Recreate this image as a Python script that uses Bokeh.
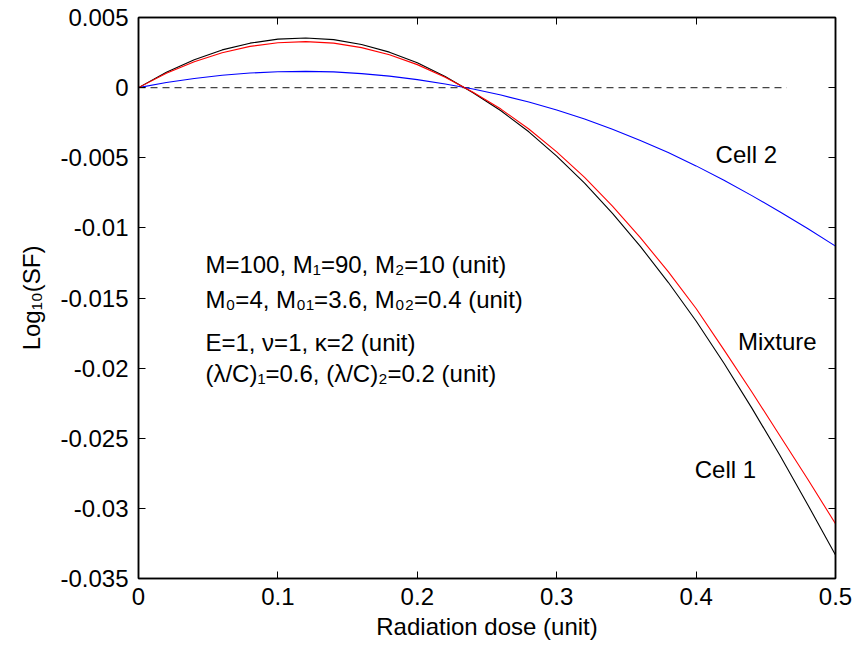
from bokeh.plotting import figure
from bokeh.models import Range1d, LinearAxis, FixedTicker, Label, CustomJSTickFormatter
from bokeh.embed import file_html
from bokeh.resources import INLINE

# ---- data ----
dose = [0.00, 0.02, 0.04, 0.06, 0.08, 0.10, 0.12, 0.14, 0.16, 0.18, 0.20, 0.22, 0.24,
        0.26, 0.28, 0.30, 0.32, 0.34, 0.36, 0.38, 0.40, 0.42, 0.44, 0.46, 0.48, 0.50]
cell1 = [0.0, 0.00110, 0.00199, 0.00269, 0.00317, 0.00346, 0.00354, 0.00342, 0.00308,
         0.00253, 0.00178, 0.00080, -0.00036, -0.00165, -0.00315, -0.00488, -0.00681,
         -0.00896, -0.01132, -0.01388, -0.01664, -0.01965, -0.02285, -0.02620, -0.02972, -0.03333]
mixture = [0.0, 0.00102, 0.00185, 0.00249, 0.00294, 0.00320, 0.00328, 0.00317, 0.00285,
           0.00234, 0.00164, 0.00074, -0.00033, -0.00153, -0.00295, -0.00458, -0.00640,
           -0.00845, -0.01070, -0.01312, -0.01575, -0.01870, -0.02170, -0.02480, -0.02790, -0.03110]
cell2 = [0.0, 0.00036, 0.00065, 0.00088, 0.00104, 0.00113, 0.00116, 0.00112, 0.00100,
         0.00082, 0.00057, 0.00026, -0.00010, -0.00053, -0.00103, -0.00160, -0.00224,
         -0.00297, -0.00377, -0.00463, -0.00558, -0.00660, -0.00770, -0.00885, -0.01005, -0.01130]
zero_x = [0.0, 0.465]
zero_y = [0.0, 0.0]

x_ticks = [0, 0.1, 0.2, 0.3, 0.4, 0.5]
x_tick_labels = ["0", "0.1", "0.2", "0.3", "0.4", "0.5"]
y_ticks = [0.005, 0, -0.005, -0.01, -0.015, -0.02, -0.025, -0.03, -0.035]
y_tick_labels = ["0.005", "0", "-0.005", "-0.01", "-0.015", "-0.02", "-0.025", "-0.03", "-0.035"]

curve_labels = ["Cell 2", "Mixture", "Cell 1"]
curve_label_x = [0.414, 0.430, 0.399]
curve_label_y = [-0.00478, -0.01812, -0.02725]

info_lines = ["M=100, M\u2081=90, M\u2082=10 (unit)",
              "M\u2080=4, M\u2080\u2081=3.6, M\u2080\u2082=0.4 (unit)",
              "E=1, \u03bd=1, \u03ba=2 (unit)",
              "(\u03bb/C)\u2081=0.6, (\u03bb/C)\u2082=0.2 (unit)"]
info_x = 0.048
info_y = [-0.0126, -0.0151, -0.0182, -0.0204]

FONT = "Liberation Sans"
FS = "24px"

p = figure(width=856, height=650, output_backend="svg", toolbar_location=None,
           x_range=Range1d(0, 0.5), y_range=Range1d(-0.035, 0.005),
           min_border_left=138, min_border_right=21, min_border_top=17, min_border_bottom=72,
           x_axis_label="Radiation dose (unit)", y_axis_label="Log\u2081\u2080(SF)")
p.background_fill_color = "white"
p.border_fill_color = "white"
p.outline_line_color = "black"
p.outline_line_width = 1.5
p.xgrid.visible = False
p.ygrid.visible = False

LOOKUP = """
let best = 0;
for (let i = 0; i < tks.length; i++) { if (Math.abs(tks[i]-tick) < Math.abs(tks[best]-tick)) best = i; }
return lbls[best];
"""
xfmt = CustomJSTickFormatter(args=dict(tks=x_ticks, lbls=x_tick_labels), code=LOOKUP)
yfmt = CustomJSTickFormatter(args=dict(tks=y_ticks, lbls=y_tick_labels), code=LOOKUP)
blank = CustomJSTickFormatter(code="return '';")

def style_axis(ax, ticks, fmt):
    ax.ticker = FixedTicker(ticks=ticks)
    ax.formatter = fmt
    ax.major_tick_in = 7
    ax.major_tick_out = 0
    ax.minor_tick_line_color = None
    ax.axis_line_color = "black"
    ax.axis_line_width = 1.5
    ax.major_tick_line_color = "black"
    ax.major_tick_line_width = 1
    ax.major_label_text_font = FONT
    ax.major_label_text_font_size = FS
    ax.major_label_text_color = "black"
    ax.axis_label_text_font = FONT
    ax.axis_label_text_font_size = FS
    ax.axis_label_text_font_style = "normal"
    ax.axis_label_text_color = "black"

style_axis(p.xaxis[0], x_ticks, xfmt)
style_axis(p.yaxis[0], y_ticks, yfmt)
p.xaxis[0].major_label_standoff = 9
p.xaxis[0].axis_label_standoff = 5
p.yaxis[0].major_label_standoff = 10
p.yaxis[0].axis_label_standoff = 12

top = LinearAxis()
style_axis(top, x_ticks, blank)
top.major_label_standoff = 0
p.add_layout(top, "above")
right = LinearAxis()
style_axis(right, y_ticks, blank)
right.major_label_standoff = 0
p.add_layout(right, "right")

p.line(zero_x, zero_y, line_color="#444444", line_width=1.2, line_dash="7 5")
p.line(dose, cell2, line_color="#0000ff", line_width=1.1)
p.line(dose, cell1, line_color="black", line_width=1.1)
p.line(dose, mixture, line_color="#ff0000", line_width=1.1)

for t, lx, ly in zip(curve_labels, curve_label_x, curve_label_y):
    p.add_layout(Label(x=lx, y=ly, text=t, text_font=FONT, text_font_size=FS,
                       text_baseline="middle", text_align="left", text_color="black"))
for t, ly in zip(info_lines, info_y):
    p.add_layout(Label(x=info_x, y=ly, text=t, text_font=FONT, text_font_size="24px",
                       text_baseline="middle", text_align="left", text_color="black"))

open("out.html", "w").write(file_html(p, INLINE))
